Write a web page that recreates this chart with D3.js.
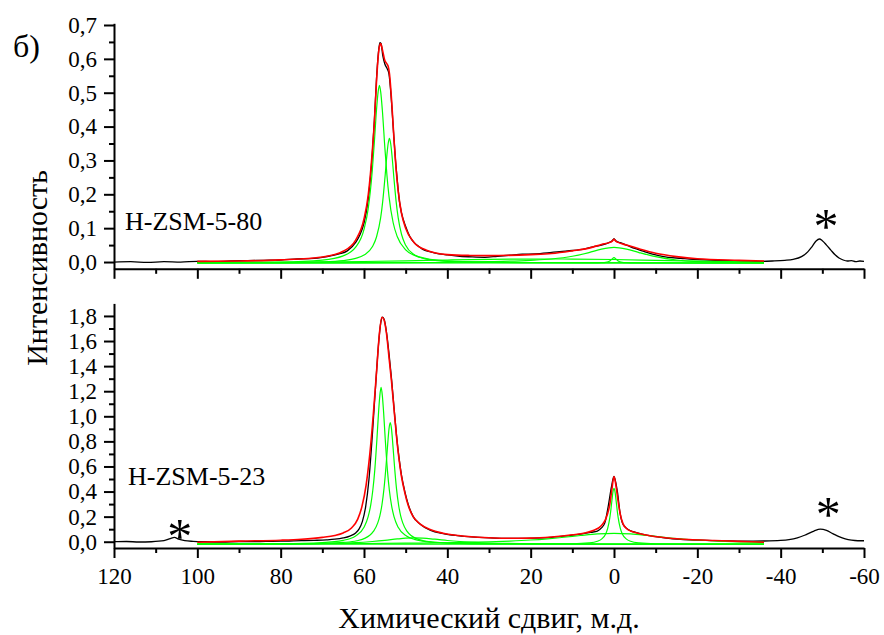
<!DOCTYPE html>
<html>
<head><meta charset="UTF-8"></head>
<body style="margin:0">
  <svg id="chart" width="884" height="635"></svg>

  <script src="https://d3js.org/d3.v7.min.js"></script>
  <script>
    const FONT = '"Liberation Serif"';

    // x ticks, ppm
    const xMajor = [120, 100, 80, 60, 40, 20, 0, -20, -40, -60];
    const xMinor = [110, 90, 70, 50, 30, 10, -10, -30, -50];

    // top panel ticks
    const topMajor = [0, 0.1, 0.2, 0.3, 0.4, 0.5, 0.6, 0.7];
    const topMinor = [0.05, 0.15, 0.25, 0.35, 0.45, 0.55, 0.65];
    // bottom panel ticks
    const botMajor = [0, 0.2, 0.4, 0.6, 0.8, 1.0, 1.2, 1.4, 1.6, 1.8];
    const botMinor = [0.1, 0.3, 0.5, 0.7, 0.9, 1.1, 1.3, 1.5, 1.7];

    // baseline of the fitted components
    const topBase = -0.003;
    const botBase = -0.02;

    // ---- H-ZSM-5-80 : [ppm, intensity]
    const topBlack = [[120,0.000],[116,0.001],[112,-0.001],[108,0.001],[104,0.000],[100,0.002],[96,0.001],[92,0.003],[88,0.004],[84,0.005],[80,0.006],[76,0.009],[72,0.011],[70,0.014],[68,0.018],[66,0.024],[64,0.033],[62,0.058],[61,0.080],[60,0.115],[59,0.185],[58,0.32],[57.5,0.42],[57,0.54],[56.6,0.61],[56.2,0.648],[55.9,0.645],[55.5,0.61],[55,0.585],[54.4,0.57],[54,0.555],[53.5,0.49],[53,0.40],[52.5,0.31],[52,0.24],[51.5,0.18],[51,0.145],[50,0.105],[49,0.075],[48,0.058],[47,0.047],[46,0.038],[44,0.030],[42,0.024],[40,0.021],[37,0.017],[34,0.015],[31,0.014],[28,0.017],[25,0.020],[22,0.023],[19,0.024],[16,0.027],[13,0.031],[10,0.034],[7,0.039],[5,0.045],[3,0.050],[1.5,0.056],[0.5,0.062],[0,0.068],[-0.5,0.062],[-1.5,0.057],[-3,0.050],[-5,0.040],[-7,0.032],[-9,0.024],[-11,0.018],[-13,0.014],[-16,0.011],[-19,0.008],[-23,0.006],[-27,0.004],[-31,0.003],[-35,0.002],[-38,0.003],[-41,0.005],[-43,0.008],[-45,0.016],[-46.5,0.030],[-47.5,0.045],[-48.5,0.062],[-49.3,0.068],[-50,0.063],[-51,0.050],[-52,0.036],[-53,0.022],[-54,0.012],[-55,0.006],[-56,0.003],[-57,0.004],[-58,0.001],[-59,0.003],[-60,0.002]];
    const topFit = [[100,0.002],[90,0.003],[80,0.0065],[70,0.015],[65,0.032],[62,0.065],[60,0.127],[59,0.196],[58,0.328],[57.5,0.416],[57,0.534],[56.6,0.606],[56.3,0.637],[56,0.645],[55.6,0.628],[55,0.595],[54.5,0.585],[54.2,0.578],[53.9,0.557],[53.3,0.463],[52.8,0.362],[52.3,0.275],[51.8,0.21],[51,0.144],[50,0.10],[48,0.058],[45,0.035],[40,0.022],[35,0.0195],[30,0.019],[20,0.022],[15,0.025],[10,0.033],[6,0.041],[3,0.052],[1,0.058],[0.5,0.061],[0,0.067],[-0.5,0.061],[-1,0.058],[-3,0.05],[-6,0.039],[-10,0.026],[-15,0.016],[-20,0.0095],[-30,0.005],[-36,0.003]];
    const topPeakA = [[100,0.001],[80,0.003],[70,0.0088],[65,0.0213],[62,0.047],[60,0.0995],[59,0.16],[58,0.275],[57.5,0.36],[57,0.452],[56.6,0.506],[56.3,0.525],[56,0.506],[55.6,0.452],[55,0.342],[54.5,0.26],[54,0.197],[53,0.119],[52,0.0775],[50,0.039],[48,0.0233],[45,0.0129],[40,0.0063],[30,0.0024],[20,0.0013],[0,0.0005],[-36,0.0002]];
    const topPeakB = [[100,0.0004],[80,0.0014],[70,0.0036],[65,0.0074],[62,0.0137],[60,0.0235],[58,0.048],[57,0.077],[56,0.134],[55.5,0.183],[55,0.248],[54.5,0.32],[54.2,0.353],[53.9,0.368],[53.6,0.353],[53.3,0.32],[52.8,0.248],[52.3,0.183],[51.8,0.134],[51,0.085],[50,0.0526],[48,0.025],[45,0.0114],[40,0.0048],[30,0.0016],[20,0.0008],[0,0.0003],[-36,0.0001]];
    const topBroad = [[100,0.0005],[60,0.001],[40,0.002],[30,0.004],[20,0.008],[15,0.012],[10,0.02],[6,0.031],[3,0.041],[0,0.046],[-3,0.041],[-6,0.031],[-10,0.019],[-15,0.009],[-20,0.004],[-30,0.001],[-36,0.0005]];
    const topWide = [[100,0.001],[80,0.002],[60,0.0045],[50,0.0065],[40,0.009],[30,0.011],[20,0.0118],[15,0.012],[10,0.0118],[0,0.0105],[-10,0.008],[-20,0.0055],[-36,0.003]];
    const topNarrow = [[100,0],[10,0.0001],[5,0.0004],[3,0.0011],[2,0.0022],[1,0.0062],[0.5,0.0115],[0,0.016],[-0.5,0.0115],[-1,0.0062],[-2,0.0022],[-3,0.0011],[-5,0.0004],[-10,0.0001],[-36,0]];

    // ---- H-ZSM-5-23 : [ppm, intensity]
    const botBlack = [[120,0.0],[117,0.002],[114,-0.002],[111,0.0],[108,0.008],[106.5,0.025],[105.5,0.035],[104.5,0.02],[103,0.008],[101,0.003],[98,0.0],[94,-0.002],[90,0.002],[86,0.001],[82,0.004],[78,0.006],[75,0.008],[72,0.011],[69,0.015],[67,0.02],[65,0.03],[63.4,0.045],[62,0.07],[61.2,0.1],[60.4,0.16],[59.6,0.28],[58.8,0.5],[58,0.85],[57.2,1.25],[56.5,1.58],[56,1.74],[55.6,1.79],[55.2,1.775],[54.6,1.67],[54,1.5],[53.4,1.3],[52.8,1.07],[52.2,0.85],[51.6,0.67],[51,0.53],[50.2,0.4],[49.4,0.3],[48.2,0.2],[46.5,0.14],[44,0.09],[41,0.065],[38,0.05],[35,0.04],[31,0.032],[27,0.027],[23,0.026],[19,0.028],[15,0.035],[11,0.048],[8,0.06],[5.5,0.075],[4,0.085],[3,0.11],[2.2,0.15],[1.4,0.28],[0.6,0.44],[0,0.52],[-0.5,0.46],[-0.9,0.38],[-1.4,0.24],[-2,0.15],[-2.6,0.12],[-3.5,0.095],[-4.6,0.08],[-6,0.066],[-7.8,0.053],[-10,0.04],[-12.6,0.028],[-16,0.018],[-20,0.012],[-24,0.008],[-28,0.006],[-32,0.005],[-36,0.006],[-40,0.01],[-42,0.016],[-44,0.03],[-46,0.055],[-48,0.085],[-49.5,0.1],[-51,0.09],[-52.5,0.065],[-54,0.04],[-55.5,0.022],[-57,0.012],[-58.5,0.008],[-60,0.008]];
    const botFit = [[100,-0.004],[90,0.005],[80,0.012],[75,0.02],[70,0.035],[67,0.05],[65,0.07],[63,0.11],[61.5,0.18],[60.5,0.28],[59.5,0.45],[58.6,0.7],[57.8,1.0],[57,1.35],[56.3,1.66],[55.7,1.79],[55.2,1.77],[54.6,1.66],[54,1.47],[53.4,1.28],[52.8,1.06],[52.2,0.84],[51.6,0.66],[51,0.52],[50.2,0.39],[49.4,0.29],[48.2,0.2],[46.5,0.14],[44,0.095],[41,0.068],[38,0.052],[35,0.042],[30,0.032],[25,0.028],[20,0.029],[15,0.038],[10,0.055],[7,0.07],[5,0.09],[3,0.13],[2,0.18],[1,0.3],[0.5,0.42],[0,0.52],[-0.5,0.44],[-1,0.32],[-1.5,0.22],[-2.2,0.14],[-3,0.105],[-4,0.085],[-6,0.065],[-9,0.045],[-13,0.03],[-18,0.018],[-24,0.01],[-30,0.003],[-36,-0.004]];
    const botPeakA = [[100,0.0014],[80,0.0045],[70,0.013],[65,0.031],[62,0.066],[60,0.135],[59,0.22],[58.4,0.31],[57.9,0.426],[57.4,0.597],[56.9,0.837],[56.5,1.055],[56.2,1.185],[55.9,1.25],[55.6,1.185],[55.3,1.055],[54.9,0.837],[54.4,0.597],[53.9,0.426],[53.4,0.311],[52.8,0.22],[51.8,0.135],[49.8,0.066],[47.9,0.039],[45.9,0.0254],[40.9,0.0114],[35.9,0.0065],[25.9,0.0029],[10,0.0013],[-36,0.0005]];
    const botPeakB = [[100,0.0009],[80,0.0027],[70,0.007],[65,0.0143],[61.7,0.028],[59.7,0.049],[58.7,0.069],[57.7,0.104],[56.7,0.17],[56.2,0.227],[55.7,0.313],[55.2,0.443],[54.7,0.63],[54.3,0.804],[54.0,0.92],[53.7,0.97],[53.4,0.92],[53.1,0.804],[52.7,0.63],[52.2,0.443],[51.7,0.313],[51.2,0.227],[50.7,0.17],[49.7,0.104],[48.7,0.069],[47.7,0.049],[45.7,0.028],[43.7,0.018],[38.7,0.0082],[33.7,0.0046],[23.7,0.002],[10,0.0009],[-36,0.0003]];
    const botSide = [[100,0.001],[80,0.003],[70,0.006],[62,0.013],[58,0.022],[55,0.031],[52,0.042],[50,0.048],[48,0.05],[46,0.048],[43,0.04],[40,0.03],[36,0.019],[30,0.01],[20,0.005],[0,0.001],[-36,0]];
    const botBroad = [[100,0.0022],[60,0.0058],[50,0.0082],[40,0.012],[36,0.0146],[30,0.0193],[25,0.0254],[20,0.0339],[16,0.0435],[12,0.0557],[8,0.0696],[4,0.0819],[0,0.087],[-4,0.0819],[-8,0.0696],[-12,0.0557],[-16,0.0435],[-20,0.0339],[-25,0.0254],[-30,0.0193],[-36,0.0146]];
    const botNarrow = [[100,0.0001],[36,0.0003],[20,0.001],[10,0.004],[6,0.0109],[4,0.0238],[3,0.0407],[2,0.082],[1.5,0.128],[1,0.2116],[0.8,0.261],[0.5,0.349],[0.25,0.417],[0,0.446],[-0.25,0.417],[-0.5,0.349],[-0.8,0.261],[-1,0.2116],[-1.5,0.128],[-2,0.082],[-3,0.0407],[-4,0.0238],[-6,0.0109],[-10,0.004],[-20,0.001],[-36,0.0003]];

    // spinning sidebands marked with *, [ppm, intensity]
    const topStars = [[-50.9, 0.127]];
    const botStars = [[104.2, 0.101], [-51.4, 0.269]];

    const svg = d3.select("#chart");
    const x = d3.scaleLinear().domain([120, -60]).range([114, 864]);
    const fmt = d => d3.format(".1f")(d).replace(".", ",");

    const panels = [
      {
        name: "H-ZSM-5-80", labelX: 125, labelY: 230,
        y: d3.scaleLinear().domain([-0.02, 0.705]).range([268.8, 23.3]),
        major: topMajor, minor: topMinor, showX: false,
        black: topBlack, fit: topFit, base: topBase,
        comps: [topWide, topBroad, topNarrow, topPeakB, topPeakA],
        stars: topStars
      },
      {
        name: "H-ZSM-5-23", labelX: 128, labelY: 485,
        y: d3.scaleLinear().domain([-0.05, 1.9]).range([548, 303.4]),
        major: botMajor, minor: botMinor, showX: true,
        black: botBlack, fit: botFit, base: botBase,
        comps: [botSide, botBroad, botNarrow, botPeakB, botPeakA],
        stars: botStars
      }
    ];

    function styleAxis(sel) {
      sel.attr("font-family", null).attr("font-size", null);
      sel.selectAll("path, line").attr("stroke", "#000").attr("stroke-width", 2);
      sel.selectAll("text")
        .style("font-family", FONT)
        .style("font-size", "23px")
        .attr("fill", "#000");
    }

    panels.forEach(p => {
      const g = svg.append("g");
      const y0 = p.y.range()[0];

      // x axis
      g.append("g")
        .attr("transform", `translate(0,${y0})`)
        .call(d3.axisBottom(x).tickValues(xMajor).tickSize(10).tickSizeOuter(0).tickPadding(10)
          .tickFormat(p.showX ? d => d : () => ""))
        .call(styleAxis);
      g.append("g")
        .attr("transform", `translate(0,${y0})`)
        .call(d3.axisBottom(x).tickValues(xMinor).tickSize(5).tickFormat(() => ""))
        .call(styleAxis)
        .select(".domain").remove();

      // y axis
      g.append("g")
        .attr("transform", `translate(${x(120)},0)`)
        .call(d3.axisLeft(p.y).tickValues(p.major).tickSize(10).tickSizeOuter(0).tickPadding(7).tickFormat(fmt))
        .call(styleAxis);
      g.append("g")
        .attr("transform", `translate(${x(120)},0)`)
        .call(d3.axisLeft(p.y).tickValues(p.minor).tickSize(5).tickFormat(() => ""))
        .call(styleAxis)
        .select(".domain").remove();

      const line = off => d3.line()
        .x(d => x(d[0]))
        .y(d => p.y(d[1] + off))
        .curve(d3.curveMonotoneX);

      g.append("path").attr("fill", "none").attr("stroke", "#000").attr("stroke-width", 1.3)
        .attr("d", line(0)(p.black));
      p.comps.forEach(c => {
        g.append("path").attr("fill", "none").attr("stroke", "#00ff00").attr("stroke-width", 1.2)
          .attr("d", line(p.base)(c));
      });
      g.append("path").attr("fill", "none").attr("stroke", "#ff0000").attr("stroke-width", 1.6)
        .attr("d", line(0)(p.fit));

      g.append("text")
        .attr("x", p.labelX).attr("y", p.labelY)
        .style("font-family", FONT).style("font-size", "26px")
        .text(p.name);

      // asterisk glyph sits high above the baseline, so shift it down by ~0.47em
      g.selectAll(".star").data(p.stars).join("text")
        .attr("class", "star")
        .attr("x", d => x(d[0]))
        .attr("y", d => p.y(d[1]))
        .attr("dy", "0.47em")
        .attr("text-anchor", "middle")
        .style("font-family", FONT).style("font-size", "50px")
        .text("*");
    });

    svg.append("text")
      .attr("x", 13).attr("y", 57)
      .style("font-family", FONT).style("font-size", "32px")
      .text("б)");

    svg.append("text")
      .attr("transform", "translate(47,268) rotate(-90)")
      .attr("text-anchor", "middle")
      .style("font-family", FONT).style("font-size", "30px")
      .text("Интенсивность");

    svg.append("text")
      .attr("x", 489).attr("y", 628)
      .attr("text-anchor", "middle")
      .style("font-family", FONT).style("font-size", "30px")
      .text("Химический сдвиг, м.д.");
  </script>
</body>
</html>
